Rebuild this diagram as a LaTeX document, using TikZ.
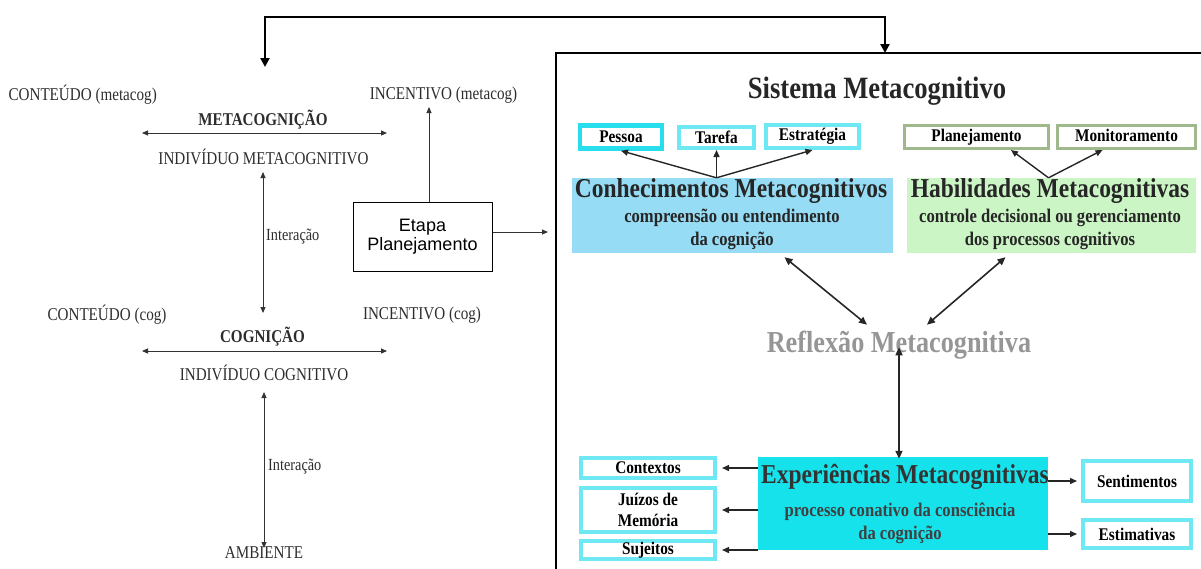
\documentclass[tikz,border=0pt]{standalone}
\usepackage{fontspec}
\setmainfont{Liberation Serif}
\newfontfamily\narrowserif[FakeStretch=0.84]{Liberation Serif}
\newfontfamily\tallserif[FakeStretch=0.86]{Liberation Serif}
\newfontfamily\etapafont{Liberation Sans}
\usetikzlibrary{arrows.meta}
\definecolor{boxcyan}{RGB}{110,232,242}
\definecolor{pessoacyan}{RGB}{40,222,236}
\definecolor{boxgreen}{RGB}{160,185,140}
\definecolor{conhecfill}{RGB}{150,220,245}
\definecolor{habilfill}{RGB}{204,245,198}
\definecolor{experfill}{RGB}{22,226,236}
\definecolor{reflexgray}{RGB}{150,150,150}
\definecolor{scantext}{RGB}{45,45,45}

\begin{document}
\begin{tikzpicture}
[
    x=1pt, y=-1pt,
    every node/.style={inner sep=0pt, text=scantext},
    lefttext/.style={font=\narrowserif\fontsize{18}{20}\selectfont},
    leftbold/.style={font=\narrowserif\bfseries\fontsize{18}{20}\selectfont},
    smalltext/.style={font=\narrowserif\fontsize{17}{19}\selectfont},
    thinarrow/.style={draw=black!80, line width=0.9pt, {Triangle[length=6pt,width=5pt]}-{Triangle[length=6pt,width=5pt]}},
    onearrow/.style={draw=black!80, line width=0.9pt, -{Triangle[length=6pt,width=5pt]}},
    looparrow/.style={draw=black, line width=2.4pt, -{Triangle[length=9pt,width=9pt]}},
    etapabox/.style={draw=black, line width=1pt, fill=white, minimum width=139pt, minimum height=69pt,
        align=center, text=black, font=\etapafont\fontsize{18}{19.5}\selectfont},
    framebox/.style={draw=black, line width=2pt},
    title/.style={font=\tallserif\bfseries\fontsize{31}{34}\selectfont, text=black!85},
    bigtitle/.style={font=\tallserif\bfseries\fontsize{27.3}{30}\selectfont, text=black!85},
    subtitle/.style={font=\tallserif\bfseries\fontsize{19.3}{23}\selectfont, text=black!85, align=center},
    cyanbox/.style={draw=boxcyan, line width=4pt, fill=white, text=black,
        font=\tallserif\bfseries\fontsize{17.8}{21}\selectfont, align=center},
    greenbox/.style={draw=boxgreen, line width=3pt, fill=white, text=black,
        text height=11pt, text depth=3pt, font=\tallserif\bfseries\fontsize{17.8}{20}\selectfont},
    fillbox/.style={draw=none},
    rightarrow/.style={draw=black!85, line width=1.4pt, -{Triangle[length=7pt,width=6pt]}},
    botharrow/.style={draw=black!85, line width=1.6pt, {Triangle[length=8pt,width=7pt]}-{Triangle[length=8pt,width=7pt]}},
]
\useasboundingbox (0,0) rectangle (1201,568);

% lado cognitivo
\node[lefttext, anchor=east] (contmeta) at (157,95) {CONTEÚDO (metacog)};
\node[lefttext] (incmeta) at (443.5,95) {INCENTIVO (metacog)};
\node[leftbold] (metacog) at (263,120) {METACOGNIÇÃO};
\node[lefttext] (indmeta) at (263.5,157) {INDIVÍDUO METACOGNITIVO};
\node[smalltext, anchor=west] (inter1) at (266,237) {Interação};
\node[lefttext] (contcog) at (107,315) {CONTEÚDO (cog)};
\node[lefttext] (inccog) at (422,315) {INCENTIVO (cog)};
\node[leftbold] (cog) at (262.5,337) {COGNIÇÃO};
\node[lefttext] (indcog) at (264,373) {INDIVÍDUO COGNITIVO};
\node[smalltext, anchor=west] (inter2) at (268,467) {Interação};
\node[lefttext] (ambiente) at (264,553) {AMBIENTE};
\node[etapabox] (etapa) at (422.5,236.5) {Etapa\\Planejamento};

\coordinate (metaL) at (142,133);
\coordinate (metaR) at (387,133);
\coordinate (cogL) at (142,351);
\coordinate (cogR) at (387,351);
\coordinate (inter1top) at (263,172);
\coordinate (inter1bot) at (263,313);
\coordinate (inter2top) at (264,392);
\coordinate (inter2bot) at (264,548);
\coordinate (frameNW) at (556,53);
\coordinate (frameSE) at (1215,590);
\coordinate (etapaend) at (548,232);
\coordinate (incend) at (429,107);
\coordinate (loopL) at (265,17);
\coordinate (loopR) at (885,17);

\draw[thinarrow] (metaL) -- (metaR);
\draw[thinarrow] (cogL) -- (cogR);
\draw[thinarrow] (inter1top) -- (inter1bot);
\draw[thinarrow] (inter2top) -- (inter2bot);
\draw[onearrow] (incend |- etapa.north) -- (incend);
\draw[onearrow] (etapa.east |- etapaend) -- (etapaend);

% sistema metacognitivo
\draw[framebox] (frameNW) rectangle (frameSE);
\draw[looparrow] (loopR) -- (loopL) -- (265,67);
\draw[looparrow] (loopL) -- (loopR) -- (885,53);
\node[title] (sistema) at (877,91) {Sistema Metacognitivo};

\node[cyanbox, draw=pessoacyan, line width=4.5pt, minimum width=82pt, minimum height=23pt] (pessoa) at (621,137) {Pessoa};
\node[cyanbox, minimum width=75pt, minimum height=21pt] (tarefa) at (716.5,137.5) {Tarefa};
\node[cyanbox, minimum width=93pt, minimum height=23pt] (estrategia) at (812.5,136.5) {Estratégia};
\node[greenbox, minimum width=144pt, minimum height=23pt] (planej) at (976.5,137) {Planejamento};
\node[greenbox, minimum width=138pt, minimum height=23pt] (monitor) at (1126.5,137) {Monitoramento};

\node[fillbox, fill=conhecfill, minimum width=321pt, minimum height=75pt] (conhec) at (732.5,215.5) {};
\node[bigtitle] (conhectit) at (731,191) {Conhecimentos Metacognitivos};
\node[subtitle] (conhecsub) at (732,229) {compreensão ou entendimento\\da cognição};
\node[fillbox, fill=habilfill, minimum width=289pt, minimum height=75pt] (habil) at (1051.5,215.5) {};
\node[bigtitle] (habiltit) at (1050,191) {Habilidades Metacognitivas};
\node[subtitle] (habilsub) at (1050,229) {controle decisional ou gerenciamento\\dos processos cognitivos};

\draw[rightarrow] (tarefa.south |- conhec.north) -- (pessoa.south);
\draw[rightarrow] (tarefa.south |- conhec.north) -- (tarefa.south);
\draw[rightarrow] (tarefa.south |- conhec.north) -- (estrategia.south);
\draw[rightarrow] ([xshift=-3pt]habil.north) -- ([xshift=-45pt]monitor.south west);
\draw[rightarrow] ([xshift=-3pt]habil.north) -- ([xshift=-24pt]monitor.south);

\node[font=\tallserif\bfseries\fontsize{30.5}{34}\selectfont, text=reflexgray] (reflexao) at (899,345) {Reflexão Metacognitiva};
\draw[botharrow] ([xshift=52pt,yshift=-4pt]conhec.south) -- ([xshift=-32pt,yshift=6pt]reflexao.north);
\draw[botharrow] ([xshift=-46pt,yshift=-4pt]habil.south) -- ([xshift=28pt,yshift=6pt]reflexao.north);

\node[fillbox, fill=experfill, minimum width=290pt, minimum height=93pt] (exper) at (903,503.5) {};
\node[bigtitle, text=black!80] (expertit) at (905,477) {Experiências Metacognitivas};
\node[subtitle, text=black!75] (expersub) at (900,523) {processo conativo da consciência\\da cognição};
\draw[botharrow] ([yshift=12pt]reflexao.south) -- ([yshift=-2pt]exper.north -| reflexao.south);

\node[cyanbox, minimum width=134pt, minimum height=20pt] (contextos) at (648,468) {Contextos};
\node[cyanbox, minimum width=134pt, minimum height=44pt] (juizos) at (648,510) {Juízos de\\Memória};
\node[cyanbox, minimum width=134pt, minimum height=18pt] (sujeitos) at (648,550) {Sujeitos};
\node[cyanbox, minimum width=108pt, minimum height=40pt] (sentim) at (1137,481) {Sentimentos};
\node[cyanbox, minimum width=108pt, minimum height=28pt] (estim) at (1137,534) {Estimativas};

\draw[rightarrow] (exper.west |- contextos) -- ([xshift=5pt]contextos.east);
\draw[rightarrow] (exper.west |- juizos) -- ([xshift=5pt]juizos.east);
\draw[rightarrow] (exper.west |- sujeitos) -- ([xshift=5pt]sujeitos.east);
\draw[rightarrow] (exper.east |- sentim) -- ([xshift=-4pt]sentim.west);
\draw[rightarrow] (exper.east |- estim) -- ([xshift=-4pt]estim.west);
\end{tikzpicture}
\end{document}
